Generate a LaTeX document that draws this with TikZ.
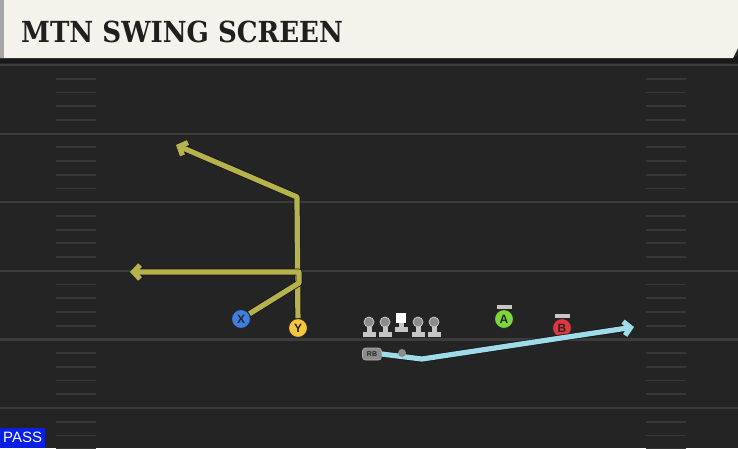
\documentclass[tikz,border=0pt]{standalone}
\usepackage{fontspec}
\setmainfont{DejaVu Serif}
\newfontfamily\labelfont{Liberation Sans}
\usetikzlibrary{arrows.meta}
\definecolor{field}{HTML}{242424}
\definecolor{yardline}{HTML}{3C3C3C}
\definecolor{hashmark}{HTML}{383838}
\definecolor{cream}{HTML}{F5F2EC}
\definecolor{wrroute}{HTML}{B7B34C}
\definecolor{rbroute}{HTML}{9FDCEA}
\definecolor{xblue}{HTML}{3D7FE0}
\definecolor{yyellow}{HTML}{F4C63A}
\definecolor{agreen}{HTML}{7DD63B}
\definecolor{bred}{HTML}{E2363F}
\definecolor{passblue}{HTML}{0A1FE6}
\definecolor{linegray}{HTML}{C6C6C6}

\begin{document}
\begin{tikzpicture}[x=1pt,y=-1pt,
    player/.style={circle,draw=black!85,line width=1pt,minimum size=19pt,inner sep=0pt,
        font=\labelfont\bfseries\fontsize{12}{12}\selectfont,text=black!85},
    route/.style={line width=5.2pt,line join=round,
        preaction={draw=black!90,line width=6.8pt,line join=round}},
    tip/.style={-{Straight Barb[length=6.5pt,width=14pt]}},
    stance/.style={fill=linegray,inner sep=0pt,minimum width=15pt,minimum height=4.5pt}]

    \useasboundingbox (0,0) rectangle (738,448);

    % field
    \fill[field] (0,0) rectangle (738,448);
    \foreach \y in {65,133.6,202.2,270.8,339.4,408} {
        \draw[yardline,line width=2.2pt] (0,\y) -- (738,\y);
        \foreach \k in {1,2,3,4} {
            \draw[hashmark,line width=1.8pt] (56,\y+13.7*\k) -- (96,\y+13.7*\k);
            \draw[hashmark,line width=1.8pt] (646,\y+13.7*\k) -- (686,\y+13.7*\k);
        }
    }

    % title bar
    \fill[black!90] (0,56) rectangle (738,63);
    \fill[cream] (0,0) -- (738,0) -- (738,48) -- (733,58) -- (0,58) -- cycle;
    \fill[black!35] (0,0) rectangle (4,58);
    \node[anchor=west,inner sep=0pt,text=black!88,xscale=0.9] (title) at (21,32)
        {\fontsize{29}{29}\selectfont\bfseries MTN SWING SCREEN};

    % players
    \node[player,fill=xblue] (X) at (241,319) {X};
    \node[player,fill=yyellow] (Y) at (298,328) {Y};
    \node[player,fill=agreen] (A) at (504,319) {A};
    \node[player,fill=bred] (B) at (562,328) {B};
    \node[stance] (Abar) at (504,307) {};
    \node[stance] (Bbar) at (562,316) {};

    % line
    \foreach \x/\n in {369/lt,385/lg,418/rg,434/rt} {
        \fill[linegray] (\x-6.5,332) rectangle (\x+6.5,337);
        \fill[linegray] (\x-2.5,324) rectangle (\x+2.5,334);
        \node[circle,fill=black!45,draw=linegray,line width=0.8pt,inner sep=0pt,minimum size=10pt] (\n) at (\x,322) {};
    }
    \fill[linegray] (394.5,327) rectangle (407.5,332);
    \fill[linegray] (398.5,320) rectangle (403.5,329);
    \node[fill=white,inner sep=0pt,minimum size=10pt] (C) at (401,318) {};

    % routes
    \coordinate (ybreak) at (297,197);
    \coordinate (yend) at (176,145);
    \coordinate (xbreak) at (299,283);
    \coordinate (xturn) at (299,272);
    \coordinate (xend) at (130,272);
    \coordinate (rbdip) at (422,359);
    \coordinate (rbend) at (634,327);

    \draw[route,wrroute,tip] (Y) -- (ybreak) -- (yend);
    \draw[route,wrroute,tip] (X) -- (xbreak) -- (xturn) -- (xend);

    \node[rounded corners=3pt,fill=black!45,draw=black!30,line width=0.6pt,inner sep=0pt,
        minimum width=19pt,minimum height=12pt,font=\labelfont\bfseries\fontsize{7}{7}\selectfont,
        text=black!85] (RB) at (372,354) {RB};
    \draw[route,rbroute,tip] (RB.east) -- (rbdip) -- (rbend);
    \node[circle,fill=black!45,inner sep=0pt,minimum size=8pt] (QB) at (402,353) {};

    % play type
    \node[fill=passblue,anchor=south west,minimum width=45pt,minimum height=20pt,inner sep=0pt,
        text=white,font=\labelfont\fontsize{15}{15}\selectfont] (pass) at (0,448) {PASS};

\end{tikzpicture}
\end{document}
